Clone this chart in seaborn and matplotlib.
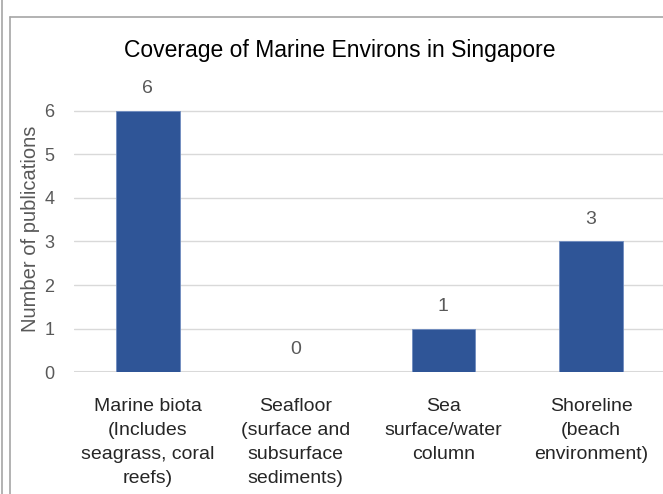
import matplotlib
matplotlib.use("Agg")
import matplotlib.pyplot as plt
from matplotlib.lines import Line2D
import seaborn as sns
import pandas as pd

categories = [
    "Marine biota\n(Includes\nseagrass, coral\nreefs)",
    "Seafloor\n(surface and\nsubsurface\nsediments)",
    "Sea\nsurface/water\ncolumn",
    "Shoreline\n(beach\nenvironment)",
]
publications = [6, 0, 1, 3]
y_ticks = [0, 1, 2, 3, 4, 5, 6]

sns.set_theme(style="white")
plt.rcParams["font.family"] = ["Liberation Sans", "DejaVu Sans"]

W, H = 663, 494
fig = plt.figure(figsize=(W / 100, H / 100), dpi=100)
ax = fig.add_axes([74 / W, 1 - 372 / H, 591 / W, (372 - 111) / H * 6.6 / 6])

df = pd.DataFrame({"category": categories, "count": publications})
sns.barplot(data=df, x="category", y="count", color="#2F5597", saturation=1,
            width=0.43, edgecolor="#6F8CC0", linewidth=0.6, ax=ax)

ax.set_ylim(0, 6.6)
ax.set_xlim(-0.5, 3.5)
ax.set_yticks(y_ticks)
ax.set_yticklabels([str(t) for t in y_ticks], color="#595959", fontsize=13)
ax.tick_params(axis="y", length=0, pad=14)
ax.tick_params(axis="x", length=0, pad=19, labelsize=14, labelcolor="#262626")
for lbl in ax.get_xticklabels():
    lbl.set_linespacing(1.52)
ax.grid(axis="y", color="#D9D9D9", linewidth=1)
ax.set_axisbelow(True)
for s in ax.spines.values():
    s.set_visible(False)
ax.axhline(0, color="#D9D9D9", linewidth=1.5, zorder=0)
ax.set_xlabel("")
ax.set_ylabel("Number of publications", color="#595959", fontsize=14.5, labelpad=3)

for i, v in enumerate(publications):
    ax.annotate(str(v), (i, v), xytext=(0, 16), textcoords="offset points",
                ha="center", va="center", color="#595959", fontsize=14)

fig.text(340 / W, 1 - 50 / H, "Coverage of Marine Environs in Singapore",
         ha="center", va="center", fontsize=16.5, color="black")

# outer frame lines
frame = "#A6A6A6"
fig.add_artist(Line2D([2 / W, 2 / W], [0, 1], color=frame, lw=1.2, transform=fig.transFigure))
fig.add_artist(Line2D([10 / W, 10 / W], [0, 1 - 17 / H], color=frame, lw=1.2, transform=fig.transFigure))
fig.add_artist(Line2D([10 / W, 1], [1 - 17 / H, 1 - 17 / H], color=frame, lw=1.2, transform=fig.transFigure))

fig.savefig("out.png", dpi=100)
